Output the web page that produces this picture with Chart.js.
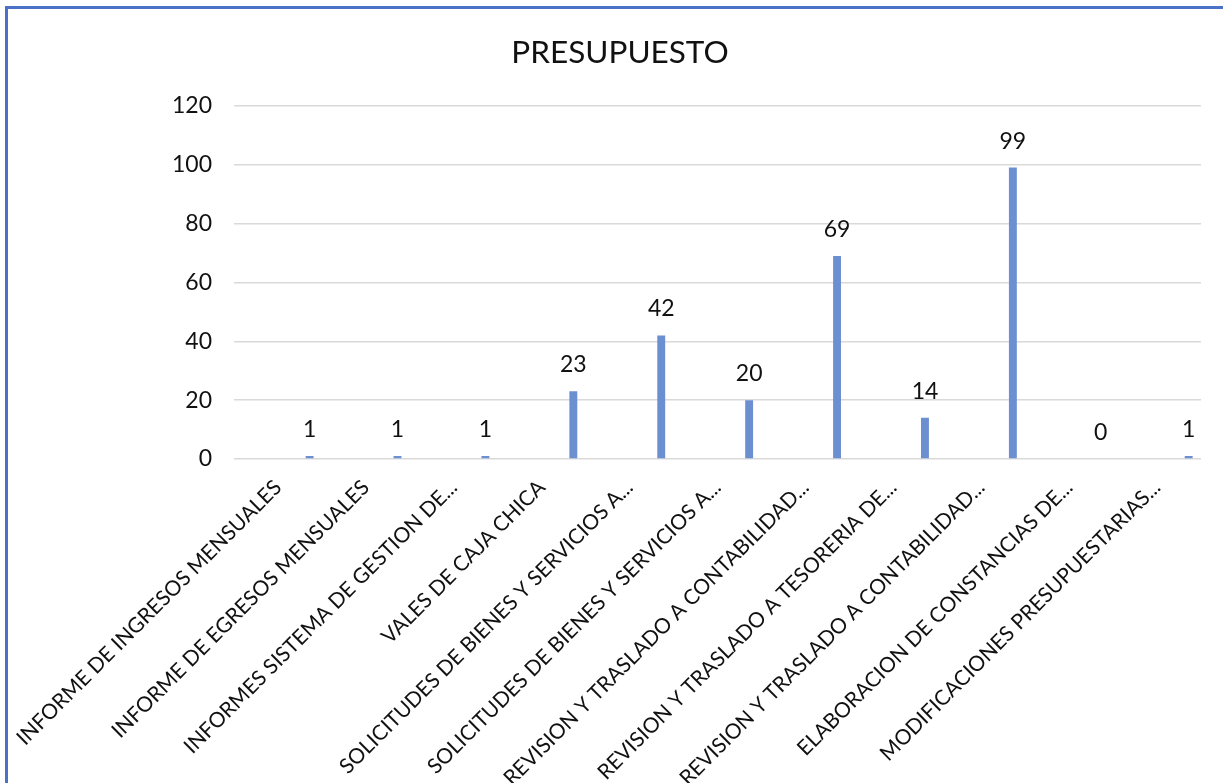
<!DOCTYPE html>
<html>
<head>
<meta charset="utf-8">
<script src="https://cdn.jsdelivr.net/npm/chart.js@4"></script>
<style>
  html, body { margin: 0; padding: 0; background: #fff; overflow: hidden; }
  #frame {
    position: absolute; left: 5px; top: 6px; width: 1300px; height: 900px;
    border-top: 3px solid #4a72c6; border-left: 3px solid #4a72c6;
  }
  #wrap { position: absolute; left: 6px; top: 9px; width: 1228px; height: 774px; }
</style>
</head>
<body>
<div id="frame"></div>
<div id="wrap"><canvas id="chart"></canvas></div>
<script>
const categories = [
    'INFORME DE INGRESOS MENSUALES',
    'INFORME DE EGRESOS MENSUALES',
    'INFORMES SISTEMA DE GESTION DE...',
    'VALES DE CAJA CHICA',
    'SOLICITUDES DE BIENES Y SERVICIOS A...',
    'SOLICITUDES DE BIENES Y SERVICIOS A...',
    'REVISION Y TRASLADO A CONTABILIDAD...',
    'REVISION Y TRASLADO A TESORERIA DE...',
    'REVISION Y TRASLADO A CONTABILIDAD...',
    'ELABORACION DE CONSTANCIAS DE...',
    'MODIFICACIONES PRESUPUESTARIAS...'
];
const values = [1, 1, 1, 23, 42, 20, 69, 14, 99, 0, 1];
const yTicks = [0, 20, 40, 60, 80, 100, 120];
const title = 'PRESUPUESTO';

const FONT = 'Lato, Carlito, Calibri, sans-serif';

// empty series keep the visible bar at the right side of each slot, as in the sheet
const emptySeries = categories.map(() => null);

// draws the value above each bar of the last series
const valueLabels = {
    id: 'valueLabels',
    afterDatasetsDraw(chart) {
        const ctx = chart.ctx;
        const last = chart.data.datasets.length - 1;
        const meta = chart.getDatasetMeta(last);
        ctx.save();
        ctx.font = '23px ' + FONT;
        ctx.fillStyle = '#111';
        ctx.textAlign = 'center';
        ctx.textBaseline = 'alphabetic';
        meta.data.forEach((bar, i) => {
            ctx.fillText(String(values[i]), bar.x, bar.y - 19);
        });
        ctx.restore();
    }
};

const ctx = document.getElementById('chart').getContext('2d');

new Chart(ctx, {
    type: 'bar',
    data: {
        labels: categories,
        datasets: [
            { data: emptySeries },
            { data: emptySeries },
            { data: emptySeries },
            { data: emptySeries },
            {
                label: title,
                data: values,
                backgroundColor: '#6b8fd1',
                borderWidth: 0
            }
        ]
    },
    options: {
        responsive: true,
        maintainAspectRatio: false,
        animation: false,
        categoryPercentage: 0.9,
        barPercentage: 0.5,
        layout: { padding: { left: 33, right: 33, top: 0, bottom: 0 } },
        plugins: {
            legend: { display: false },
            tooltip: { enabled: false },
            title: {
                display: true,
                text: title,
                color: '#111',
                font: { family: FONT, size: 31.5, weight: 'normal' },
                padding: { top: 25, bottom: 34 }
            }
        },
        scales: {
            x: {
                grid: { display: false },
                border: { display: false },
                ticks: {
                    autoSkip: false,
                    minRotation: 45,
                    maxRotation: 45,
                    padding: 8,
                    color: '#111',
                    font: { family: FONT, size: 21 }
                },
                afterFit(scale) {
                    scale.height = 324;
                    scale.paddingLeft = 0;
                    scale.paddingRight = 0;
                }
            },
            y: {
                min: 0,
                max: 120,
                afterBuildTicks(scale) {
                    scale.ticks = yTicks.map(v => ({ value: v }));
                },
                grid: { color: '#d9d9d9', lineWidth: 1.5, drawTicks: false },
                border: { display: false },
                ticks: {
                    padding: 22,
                    color: '#111',
                    font: { family: FONT, size: 23 }
                },
                afterFit(scale) { scale.width = 195; }
            }
        }
    },
    plugins: [valueLabels]
});
</script>
</body>
</html>
